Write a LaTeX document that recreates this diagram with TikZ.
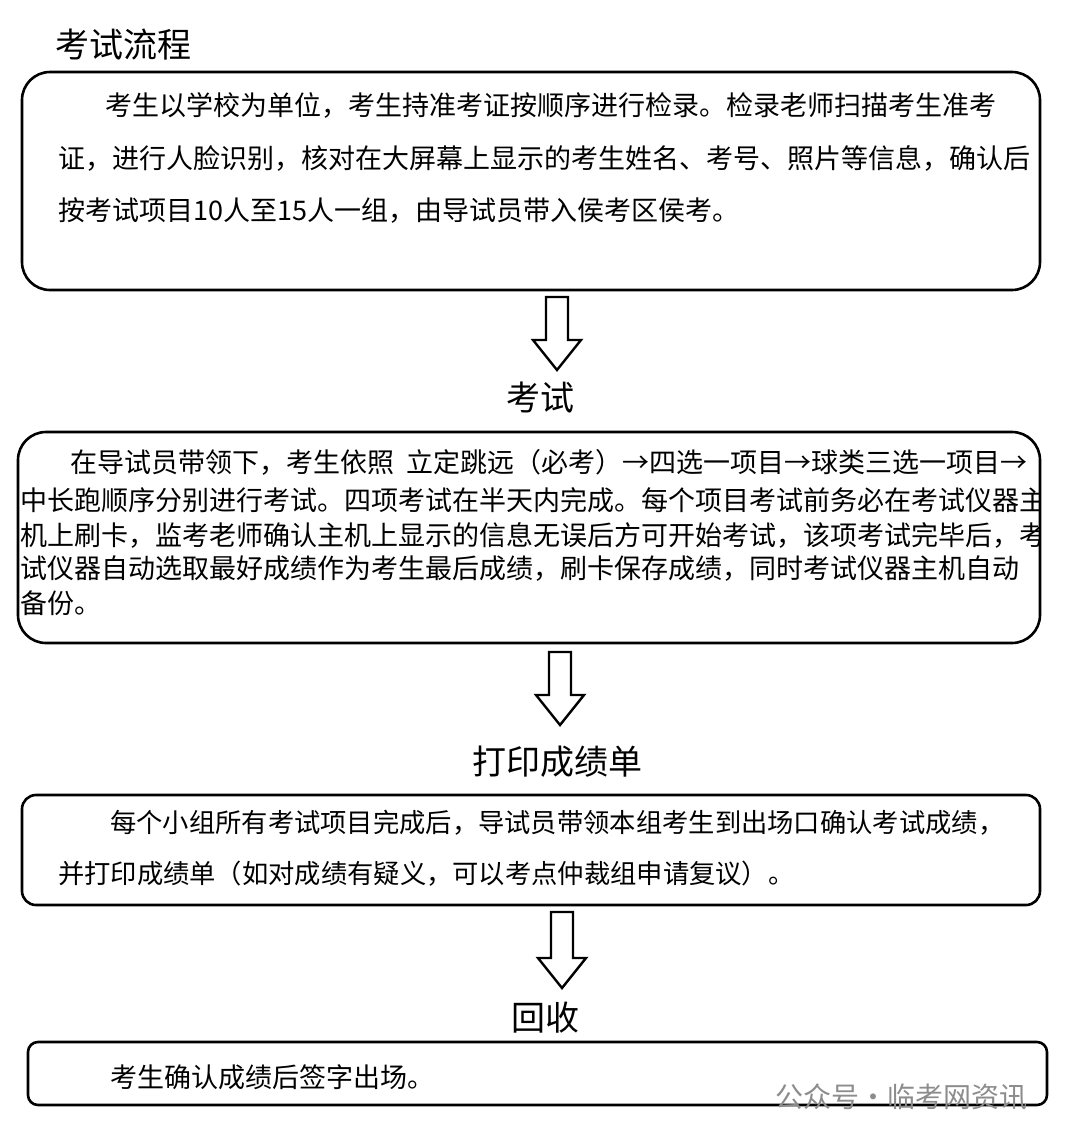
\documentclass[tikz,border=0pt]{standalone}
\usepackage{fontspec}
\setmainfont{Noto Sans CJK SC}
\begin{document}
\begin{tikzpicture}[x=1pt,y=-1pt,
 box/.style={draw=black,line width=2.6pt,rounded corners=28pt},
 txt/.style={anchor=west,inner sep=0pt,font=\fontsize{27}{27}\selectfont},
 head/.style={inner sep=0pt,font=\fontsize{34}{34}\selectfont},
 harrow/.style={draw=black,line width=2.4pt,fill=white,line join=miter}]
\useasboundingbox (0,0) rectangle (1080,1141);
\newcommand{\hollowarrow}[3]{% x, ytop, ybottom
 \draw[harrow] (#1-11,#2) -- (#1+11,#2) -- (#1+11,#3-30) -- (#1+24,#3-30) -- (#1,#3) -- (#1-24,#3-30) -- (#1-11,#3-30) -- cycle;}
\node[head,anchor=west] (t0) at (55,45) {考试流程};
\draw[box] (22,72) rectangle (1040,290);
\node[txt] (l11) at (105,105) {考生以学校为单位，考生持准考证按顺序进行检录。检录老师扫描考生准考};
\node[txt] (l12) at (58,158) {证，进行人脸识别，核对在大屏幕上显示的考生姓名、考号、照片等信息，确认后};
\node[txt] (l13) at (58,211) {按考试项目10人至15人一组，由导试员带入侯考区侯考。};
\hollowarrow{557}{297}{370}
\node[head] (t1) at (540,398) {考试};
\begin{scope}
\clip (18,432) rectangle (1040,643);
\node[txt] (l21) at (70,462) {在导试员带领下，考生依照\ \ 立定跳远（必考）→四选一项目→球类三选一项目→};
\node[txt] (l22) at (20,500) {中长跑顺序分别进行考试。四项考试在半天内完成。每个项目考试前务必在考试仪器主};
\node[txt] (l23) at (20,535) {机上刷卡，监考老师确认主机上显示的信息无误后方可开始考试，该项考试完毕后，考};
\node[txt] (l24) at (20,569) {试仪器自动选取最好成绩作为考生最后成绩，刷卡保存成绩，同时考试仪器主机自动};
\node[txt] (l25) at (20,603) {备份。};
\end{scope}
\draw[box] (18,432) rectangle (1040,643);
\hollowarrow{560}{652}{725}
\node[head] (t2) at (557,762) {打印成绩单};
\draw[box,rounded corners=14pt] (22,795) rectangle (1040,905);
\node[txt,font=\fontsize{26.3}{26}\selectfont] (l31) at (110,823) {每个小组所有考试项目完成后，导试员带领本组考生到出场口确认考试成绩，};
\node[txt,font=\fontsize{26.3}{26}\selectfont] (l32) at (58,874) {并打印成绩单（如对成绩有疑义，可以考点仲裁组申请复议）。};
\hollowarrow{562}{912}{988}
\node[head] (t3) at (545,1018) {回收};
\draw[box,rounded corners=10pt] (28,1042) rectangle (1047,1105);
\node[txt] (l41) at (110,1077) {考生确认成绩后签字出场。};
\node[anchor=west,inner sep=0pt,text=black!45,font=\fontsize{28}{28}\selectfont] (wm) at (775,1097) {公众号・临考网资讯};
\end{tikzpicture}
\end{document}
